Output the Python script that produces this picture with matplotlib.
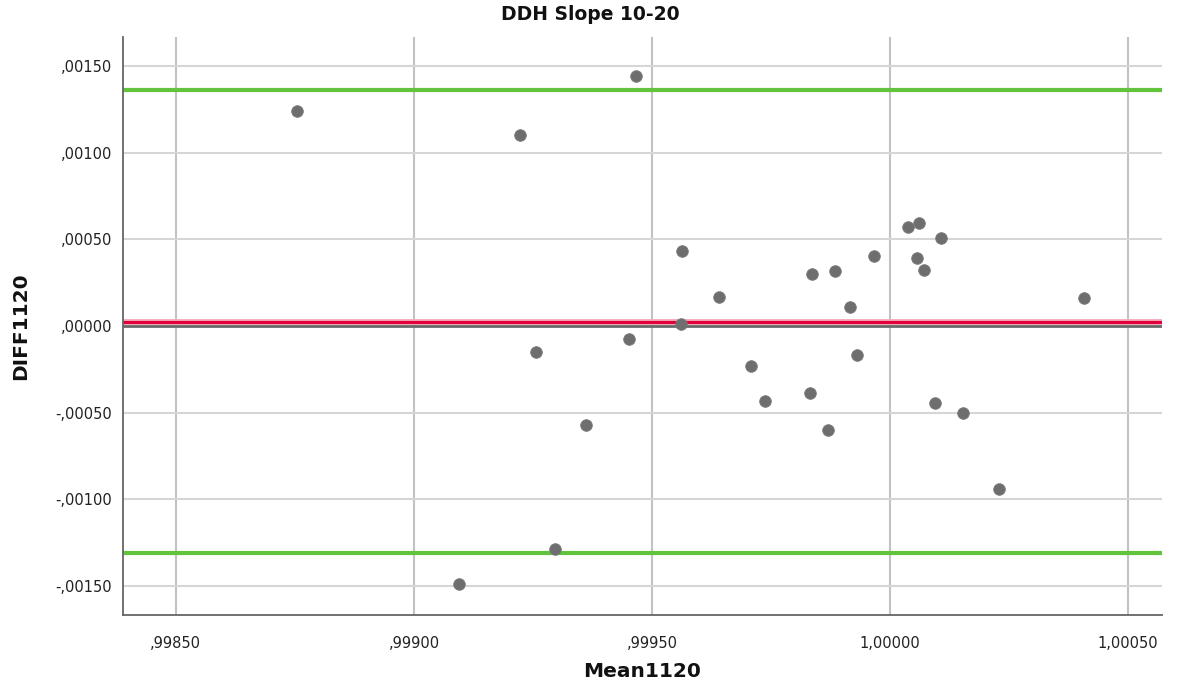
import matplotlib.pyplot as plt

# Bland-Altman data
mean1120 = [0.998754, 0.999223, 0.999466, 0.999564, 0.999560, 0.999452, 0.999256,
            0.999361, 0.999709, 0.999738, 0.999832, 0.999870, 0.999931, 0.999915,
            0.999641, 0.999836, 0.999885, 0.999966, 1.000038, 1.000061, 1.000107,
            1.000056, 1.000072, 1.000094, 1.000154, 1.000228, 1.000408, 0.999296,
            0.999095]
diff1120 = [0.001244, 0.001102, 0.001442, 0.000436, 0.000009, -0.000074, -0.000151,
            -0.000570, -0.000233, -0.000436, -0.000390, -0.000603, -0.000170, 0.000107,
            0.000166, 0.000299, 0.000315, 0.000405, 0.000570, 0.000598, 0.000511,
            0.000395, 0.000324, -0.000446, -0.000505, -0.000940, 0.000161, -0.001287,
            -0.001493]

mean_diff = 0.000026
upper_loa = 0.001366
lower_loa = -0.001314

x_ticks = [0.9985, 0.9990, 0.9995, 1.0000, 1.0005]
x_labels = [',99850', ',99900', ',99950', '1,00000', '1,00050']
y_ticks = [-0.0015, -0.0010, -0.0005, 0.0, 0.0005, 0.0010, 0.0015]
y_labels = ['-,00150', '-,00100', '-,00050', ',00000', ',00050', ',00100', ',00150']

fig = plt.figure(figsize=(11.8, 6.88), dpi=100)
ax = fig.add_axes([0.1042, 0.1061, 0.8805, 0.8401])

ax.set_xlim(0.998389, 1.000571)
ax.set_ylim(-0.00167, 0.00167)

ax.set_xticks(x_ticks)
ax.set_xticklabels(x_labels)
ax.set_yticks(y_ticks)
ax.set_yticklabels(y_labels)
ax.tick_params(length=0, labelsize=10.5, labelcolor='#222222')
ax.tick_params(axis='x', pad=15)
ax.tick_params(axis='y', pad=8)

ax.xaxis.grid(True, color='#c2c2c2', linewidth=1.5)
ax.yaxis.grid(True, color='#d6d6d6', linewidth=1.5)
ax.set_axisbelow(True)

for side in ['top', 'right']:
    ax.spines[side].set_visible(False)
for side in ['left', 'bottom']:
    ax.spines[side].set_color('#666666')
    ax.spines[side].set_linewidth(1.3)

ax.axhline(0, color='#6a6a6a', linewidth=2, zorder=2)
ax.axhline(mean_diff, color='#f4a7b8', linewidth=4.2, zorder=2)
ax.axhline(mean_diff, color='#e0003c', linewidth=2.2, zorder=2)
ax.axhline(upper_loa, color='#62c43c', linewidth=3, zorder=2)
ax.axhline(lower_loa, color='#62c43c', linewidth=3, zorder=2)

ax.scatter(mean1120, diff1120, s=70, color='#6e6e6e', edgecolors='#7a7a7a',
           linewidths=0.6, zorder=3)

fig.text(0.5, 0.979, 'DDH Slope 10-20', ha='center', va='center',
         fontsize=13.5, fontweight='bold', color='#111111')
ax.set_xlabel('Mean1120', fontsize=14.5, fontweight='bold', labelpad=8, color='#111111')
ax.set_ylabel('DIFF1120', fontsize=14.5, fontweight='bold', labelpad=18, color='#111111')

fig.savefig('out.png', dpi=100)
